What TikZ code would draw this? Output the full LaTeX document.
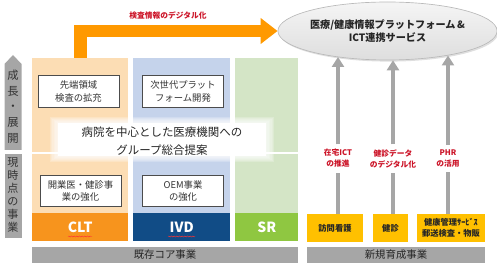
\documentclass[tikz,border=0pt]{standalone}
\usepackage{fontspec}
\setmainfont{Noto Sans CJK JP}
\usetikzlibrary{shapes.geometric,shadows,arrows.meta,calc,decorations.pathmorphing}
\definecolor{cltL}{RGB}{252,221,180}
\definecolor{ivdL}{RGB}{197,211,235}
\definecolor{srL}{RGB}{212,229,198}
\definecolor{cltD}{RGB}{247,148,29}
\definecolor{ivdD}{RGB}{17,76,134}
\definecolor{srD}{RGB}{143,199,65}
\definecolor{arrO}{RGB}{255,153,0}
\definecolor{yel}{RGB}{255,192,0}
\definecolor{gry}{RGB}{166,166,166}
\definecolor{redT}{RGB}{204,20,40}
\tikzset{
  colbg/.style={anchor=north west, inner sep=0, minimum height=116.25pt},
  colbar/.style={anchor=north west, inner sep=0, minimum height=21pt, text=white, font=\fontsize{10.5}{12}\selectfont\bfseries},
  ibox/.style={draw=black!70, line width=0.6pt, fill=white, inner sep=0, minimum width=60.75pt, minimum height=23.5pt, align=center, text=black!80, font=\fontsize{7}{9.2}\selectfont},
  vtxt/.style={align=center, inner sep=0, text=black!80},
  redlbl/.style={align=center, fill=white, inner xsep=1pt, inner ysep=3.5pt, text=redT, font=\fontsize{5.8}{8.25}\selectfont\bfseries},
  ybox/.style={fill=yel, inner sep=0, minimum height=21pt, align=center, text=black!85, font=\fontsize{6.2}{8.6}\selectfont\bfseries},
  gbar/.style={fill=gry, inner sep=0, minimum height=12pt, text=black!85, font=\fontsize{7.8}{9}\selectfont},
  garr/.style={draw=gry, line width=3pt},
  garrh/.style={garr, -{Triangle[length=7.5pt,width=9pt]}},
  squiggle/.style={draw=red!80, line width=0.35pt, decorate, decoration={snake, amplitude=0.35pt, segment length=2pt}}
}
\begin{document}
\begin{tikzpicture}[x=0.75pt,y=-0.75pt]
\useasboundingbox (0,0) rectangle (497,267);
% column backgrounds
\node[colbg, fill=cltL, minimum width=72pt] (cltbg) at (32,58) {};
\node[colbg, fill=ivdL, minimum width=72.75pt] (ivdbg) at (133,58) {};
\node[colbg, fill=srL, minimum width=47.25pt] (srbg) at (235,58) {};
\draw[white, line width=1.5pt] (32,153) -- (298,153);
% column bars
\node[colbar, fill=cltD, minimum width=72pt] (clt) at (32,213) {CLT};
\node[colbar, fill=ivdD, minimum width=72.75pt] (ivd) at (133,213) {IVD};
\node[colbar, fill=srD, minimum width=47.25pt] (sr) at (235,213) {SR};
\draw[squiggle] (68,236.5) -- (92,236.5);
\draw[squiggle] (168,236.5) -- (195,236.5);
% inner boxes
\node[ibox] (a) at (78.5,91.5) {先端領域\\検査の拡充};
\node[ibox] (b) at (183,91.5) {次世代プラット\\フォーム開発};
\node[ibox] (c) at (80.5,191) {開業医・健診事\\業の強化};
\node[ibox] (d) at (183,191) {OEM事業\\の強化};
% glow
\foreach \i in {6,5,4,3,2,1}
  \fill[white, opacity=0.22] (58-\i*1.4,123-\i*1.0) rectangle (266+\i*1.4,156+\i*1.0);
\fill[white] (58,123) rectangle (266,156);
\node[align=center, inner sep=0, text=black!85, font=\fontsize{8.6}{13.5}\selectfont] (prop) at (162,141) {病院を中心とした医療機関への\\グループ総合提案};
% left gray arrow
\fill[gry] (4.5,64) -- (13,55) -- (21.5,64) -- (21.5,150) -- (4.5,150) -- cycle;
\node[vtxt, font=\fontsize{8.5}{11.8}\selectfont] (grow) at (13,106.5) {成\\長\\・\\展\\開};
\fill[gry] (4.5,154) rectangle (21.5,238);
\node[vtxt, font=\fontsize{8.3}{9.75}\selectfont] (now) at (13,195.5) {現\\時\\点\\の\\事\\業};
% ellipse
\node[ellipse, minimum width=161.25pt, minimum height=43.5pt, inner sep=0, top color=gray!8, bottom color=gray!26, draw=gray!55, line width=0.5pt, drop shadow={opacity=0.25, shadow xshift=1pt, shadow yshift=-1.2pt}, align=center, text=black!85, font=\fontsize{7.6}{9.3}\selectfont\bfseries] (ell) at (387.5,31) {医療/健康情報プラットフォーム\,\&\\ICT連携サービス};
% orange arrow
\draw[arrO, line width=9.4pt, -{Triangle[length=12.75pt,width=18.75pt]}] (cltbg.north) |- (ell.west);
\node[text=redT, inner sep=0, font=\fontsize{5.8}{7}\selectfont\bfseries] (dig) at (168,15) {検査情報のデジタル化};
% new businesses
\node[ybox, minimum width=42pt] (y1) at (335,228) {訪問看護};
\node[ybox, minimum width=26.25pt] (y2) at (390.5,228) {健診};
\node[ybox, minimum width=51pt] (y3) at (451,228) {健康管理ｻｰﾋﾞｽ\\郵送検査・物販};
\node[redlbl] (l1) at (338,158.5) {在宅ICT\\の推進};
\node[redlbl] (l2) at (393,158.5) {健診データ\\のデジタル化};
\node[redlbl] (l3) at (448,158.5) {PHR\\の活用};
\draw[garr] (y1.north -| l1) -- (l1.south);
\draw[garr] (y2.north -| l2) -- (l2.south);
\draw[garr] (y3.north -| l3) -- (l3.south);
\draw[garrh] (l1.north) -- (l1 |- ell.207.4);
\draw[garrh] (l2.north) -- (l2 |- ell.280.7);
\draw[garrh] (l3.north) -- (l3 |- ell.338.4);
% bottom bars
\node[gbar, minimum width=199.5pt] (core) at (165,255) {既存コア事業};
\node[gbar, minimum width=133.5pt] (newbiz) at (396,255) {新規育成事業};
\end{tikzpicture}
\end{document}
